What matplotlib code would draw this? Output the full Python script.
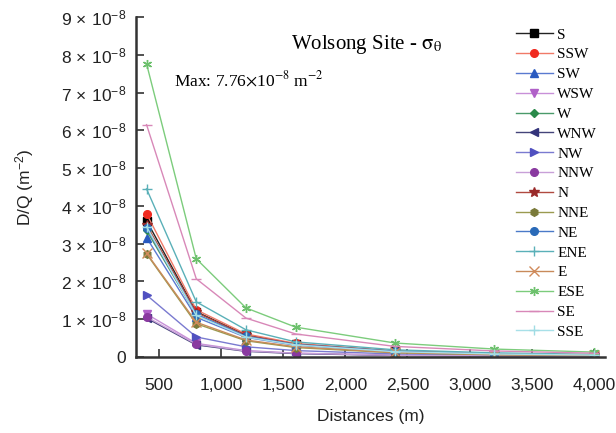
import matplotlib
matplotlib.use("Agg")
import matplotlib.pyplot as plt
from matplotlib.ticker import FuncFormatter, MultipleLocator

plt.rcParams['font.family'] = ['Liberation Sans', 'DejaVu Sans']
plt.rcParams['mathtext.fontset'] = 'custom'
plt.rcParams['mathtext.rm'] = 'Liberation Sans'
plt.rcParams['mathtext.it'] = 'Liberation Sans:italic'
plt.rcParams['mathtext.bf'] = 'Liberation Sans:bold'

distances = [400, 800, 1200, 1600, 2400, 3200, 4000]
directions = ["S", "SSW", "SW", "WSW", "W", "WNW", "NW", "NNW",
              "N", "NNE", "NE", "ENE", "E", "ESE", "SE", "SSE"]

# D/Q values in units of 1e-8 m^-2
S   = [3.61, 1.20, 0.58, 0.34, 0.15, 0.080, 0.050]
SSW = [3.79, 1.25, 0.61, 0.36, 0.16, 0.090, 0.055]
SW  = [3.16, 1.05, 0.52, 0.31, 0.14, 0.080, 0.050]
WSW = [1.14, 0.36, 0.17, 0.10, 0.050, 0.030, 0.020]
W   = [3.35, 1.12, 0.55, 0.33, 0.15, 0.080, 0.050]
WNW = [1.03, 0.32, 0.15, 0.09, 0.040, 0.025, 0.015]
NW  = [1.64, 0.53, 0.27, 0.17, 0.080, 0.045, 0.030]
NNW = [1.06, 0.34, 0.16, 0.10, 0.045, 0.030, 0.020]
N   = [3.50, 1.18, 0.57, 0.34, 0.15, 0.085, 0.055]
NNE = [2.73, 0.88, 0.43, 0.25, 0.11, 0.060, 0.040]
NE  = [3.42, 1.13, 0.55, 0.33, 0.15, 0.080, 0.050]
ENE = [4.45, 1.46, 0.72, 0.40, 0.19, 0.110, 0.070]
E   = [2.75, 0.92, 0.45, 0.27, 0.12, 0.065, 0.040]
ESE = [7.76, 2.60, 1.30, 0.79, 0.37, 0.210, 0.130]
SE  = [6.15, 2.07, 1.03, 0.61, 0.28, 0.160, 0.100]
SSE = [3.45, 1.10, 0.53, 0.32, 0.14, 0.080, 0.050]

series = [S, SSW, SW, WSW, W, WNW, NW, NNW, N, NNE, NE, ENE, E, ESE, SE, SSE]

styles = [
    dict(color="#222222", marker="s", mfc="#000000", mec="#000000"),
    dict(color="#f07a68", marker="o", mfc="#f02a20", mec="#f02a20"),
    dict(color="#5a7ad0", marker="^", mfc="#2a5ac0", mec="#2a5ac0"),
    dict(color="#c890d8", marker="v", mfc="#b060c8", mec="#b060c8"),
    dict(color="#4a9a6a", marker="D", mfc="#2a8a4a", mec="#2a8a4a"),
    dict(color="#44447a", marker="<", mfc="#33337a", mec="#33337a"),
    dict(color="#7a7ad0", marker=">", mfc="#5050c0", mec="#5050c0"),
    dict(color="#c8a0d8", marker="o", mfc="#8a3aa0", mec="#8a3aa0"),
    dict(color="#b04a40", marker="*", mfc="#9a2a2a", mec="#9a2a2a"),
    dict(color="#9a9a50", marker="h", mfc="#7a7a3a", mec="#7a7a3a"),
    dict(color="#4a7ac8", marker="o", mfc="#2a6ab8", mec="#2a6ab8"),
    dict(color="#5ab0b8", marker="+", mfc="#5ab0b8", mec="#5ab0b8"),
    dict(color="#c88a5a", marker="x", mfc="#d08a5a", mec="#d08a5a"),
    dict(color="#7ccc7c", marker=(6, 2, 0), mfc="#6cc06c", mec="#6cc06c"),
    dict(color="#d888b8", marker="_", mfc="#d888b8", mec="#d888b8"),
    dict(color="#a8e0e8", marker="+", mfc="#a0dce4", mec="#a0dce4"),
]

fig = plt.figure(figsize=(6.16, 4.33), dpi=100)
ax = fig.add_axes([136/616, 1 - 357/433, (605 - 136)/616, (357 - 17)/433])

for name, vals, st in zip(directions, series, styles):
    ms = 5.5
    if st["marker"] in ("+", "x", (6, 2, 0), "_"):
        ms = 6.5
    if st["marker"] == "*":
        ms = 7
    if st["marker"] == "D":
        ms = 4.5
    ax.plot(distances, [v * 1e-8 for v in vals], color=st["color"], lw=1.0,
            marker=st["marker"], markersize=ms, markerfacecolor=st["mfc"],
            markeredgecolor=st["mec"], markeredgewidth=1.0, label=name)

ax.set_xlim(315, 4090)
ax.set_ylim(0, 9e-8)
ax.xaxis.set_major_locator(MultipleLocator(500))
ax.yaxis.set_major_locator(MultipleLocator(1e-8))
ax.xaxis.set_major_formatter(FuncFormatter(lambda v, p: f"{int(round(v)):,}"))


def yfmt(v, p):
    n = int(round(v / 1e-8))
    if n == 0:
        return "0"
    return f"{n}$\\,\\times\\,$10$^{{-8}}$"


ax.yaxis.set_major_formatter(FuncFormatter(yfmt))

for side in ("top", "right"):
    ax.spines[side].set_visible(False)
for side in ("left", "bottom"):
    ax.spines[side].set_linewidth(1.8)
    ax.spines[side].set_color("#333333")
ax.tick_params(direction="in", length=6, width=1.2, color="#333333",
               labelsize=12.5, labelcolor="#222222")
ax.tick_params(axis="x", pad=15)
ax.tick_params(axis="y", pad=7)

ax.set_xlabel("Distances (m)", fontsize=12.5, color="#222222", labelpad=12)
ax.set_ylabel("D/Q (m$^{-2}$)", fontsize=12.5, color="#222222", labelpad=18)

fig.text(291/616, 1 - 45/433, r"Wolsong Site - $\mathrm{\sigma}_{\mathrm{\theta}}$",
         family="Liberation Serif", math_fontfamily="stix",
         fontsize=15, ha="left", va="center")
fig.text(174/616, 1 - 80/433, r"Max: 7.76$\times$10$^{-8}$ m$^{-2}$",
         family="Liberation Serif", math_fontfamily="stix",
         fontsize=12.5, ha="left", va="center")

fig.legend(loc="upper left", bbox_to_anchor=(516/616, 1 - 28/433),
           frameon=False, prop={"family": "Liberation Serif", "size": 11},
           handlelength=2.4, handletextpad=0.3, labelspacing=0.40,
           borderpad=0, borderaxespad=0, numpoints=1)

fig.savefig("out.png", dpi=100)
